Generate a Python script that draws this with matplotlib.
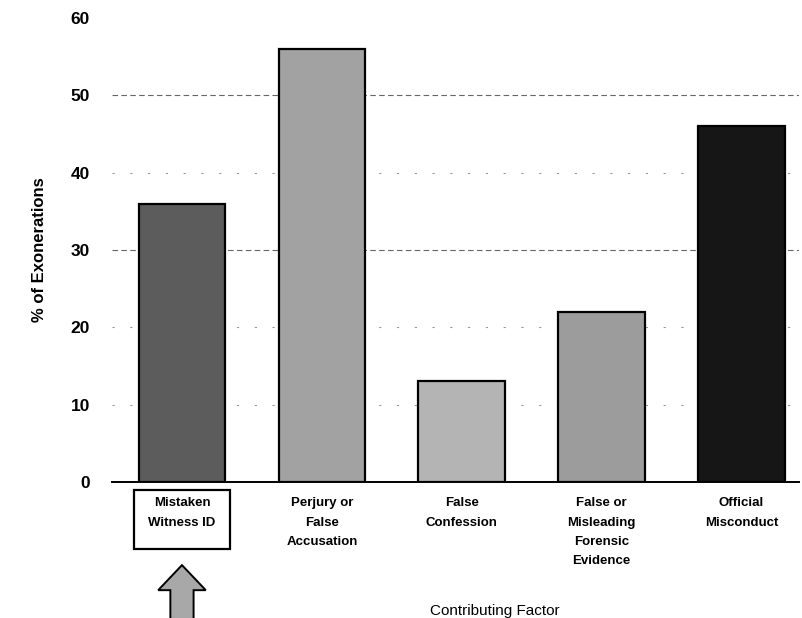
import matplotlib
matplotlib.use('Agg')
import matplotlib.pyplot as plt
import matplotlib.patches as mpatches

plt.rcParams['font.family'] = ['Liberation Sans', 'DejaVu Sans']

# data
factors = ['Mistaken\nWitness ID', 'Perjury or\nFalse\nAccusation', 'False\nConfession',
           'False or\nMisleading\nForensic\nEvidence', 'Official\nMisconduct']
pct = [36, 56, 13, 22, 46]
bar_colors = ['#5c5c5c', '#a2a2a2', '#b4b4b4', '#9c9c9c', '#161616']
yticks = [0, 10, 20, 30, 40, 50, 60]

fig = plt.figure(figsize=(8.03, 6.18), dpi=100)
fig.patch.set_facecolor('white')
ax = fig.add_axes([0.1395, 0.220, 0.8555, 0.751])

x = list(range(len(factors)))
ax.bar(x, pct, width=0.62, color=bar_colors, edgecolor='black', linewidth=1.6, zorder=3)

ax.set_xlim(-0.5, 4.41)
ax.set_ylim(0, 60)

# faint dashed gridlines
for v in yticks[1:-1]:
    if v in (30, 50):
        ax.axhline(v, color='#666666', lw=0.8, linestyle=(0, (5, 3)), zorder=0)
    else:
        ax.axhline(v, color='#999999', lw=0.8, linestyle=(0, (2, 14)), zorder=0)

for s in ['top', 'right', 'left']:
    ax.spines[s].set_visible(False)
ax.spines['bottom'].set_linewidth(1.4)

ax.set_yticks(yticks)
ax.set_yticklabels([str(v) for v in yticks], fontsize=12.5, fontweight='bold')
ax.tick_params(axis='y', length=0, pad=16)
ax.set_xticks([])

ax.set_ylabel('% of Exonerations', fontsize=12, fontweight='bold')
ax.yaxis.set_label_coords(-0.094, 0.5)

# category labels under bars
trans = ax.get_xaxis_transform()
for i, lab in enumerate(factors):
    ax.text(i, -0.033, lab, transform=trans, ha='center', va='top',
            fontsize=9.5, fontweight='bold', linespacing=1.8, clip_on=False)

# box around the first label
ax.add_patch(mpatches.Rectangle((-0.345, -0.144), 0.69, 0.127, transform=trans,
                                facecolor='none', edgecolor='black', linewidth=1.6,
                                clip_on=False))

# up arrow under the first category
arrow = mpatches.Polygon([(-0.083, -0.295), (-0.083, -0.233), (-0.17, -0.233),
                          (0.0, -0.179), (0.17, -0.233), (0.083, -0.233),
                          (0.083, -0.295)],
                         closed=True, transform=trans, facecolor='#a8a8a8',
                         edgecolor='black', linewidth=1.4, clip_on=False)
ax.add_patch(arrow)

fig.text(495 / 803, 0.012, 'Contributing Factor', ha='center', va='center', fontsize=11)

fig.savefig('out.png', dpi=100, facecolor='white')
